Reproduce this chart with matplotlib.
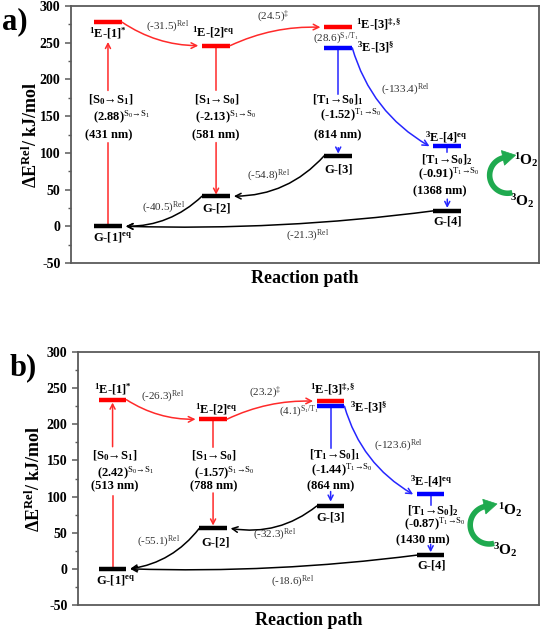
import matplotlib
matplotlib.use("Agg")
import numpy as np
import matplotlib.pyplot as plt
from matplotlib.ticker import MultipleLocator
from matplotlib.patches import Polygon

plt.rcParams.update({
    "font.family": ["Liberation Serif", "DejaVu Serif"],
    "mathtext.fontset": "custom",
    "mathtext.rm": "Liberation Serif",
    "mathtext.it": "Liberation Serif:italic",
    "mathtext.bf": "Liberation Serif:bold",
    "mathtext.default": "regular",
    "axes.unicode_minus": False,
})

# ---------------- data ----------------
# state order: G1, 1E1*, 1E2, G2, 1E3, 3E3, G3, 3E4, G4
state_stage = [0, 0, 1, 1, 2, 2, 2, 3, 3]
state_color = ["black", "red", "red", "black", "red", "blue", "black", "blue", "black"]
a_energy = [0, 278, 246, 41, 271, 243, 96, 109, 21]
b_energy = [0, 234, 207, 56, 232, 225, 87, 103, 19]

# relative energies: E1->E2, E2->E3(TS), S1/T1 gap, 3E3->3E4, G3->G2, G2->G1, G4->G1
a_rel = [-31.5, 24.5, 28.6, -133.4, -54.8, -40.5, -21.3]
b_rel = [-26.3, 23.2, 4.1, -123.6, -32.3, -55.1, -18.6]
# vertical energies (eV) and wavelengths (nm)
a_ev = [2.88, -2.13, -1.52, -0.91]
b_ev = [2.42, -1.57, -1.44, -0.87]
a_nm = [431, 581, 814, 1368]
b_nm = [513, 788, 864, 1430]

yticks = [-50, 0, 50, 100, 150, 200, 250, 300]

# ---------------- layout ----------------
a_stage_x = [0.79, 3.10, 5.71, 8.04]
b_stage_x = [0.75, 2.93, 5.48, 7.65]

RED_A = "#ff2a2a"
BLUE_A = "#2626ff"
GRAY = "#333333"
GREEN = "#1faa4f"

W, H = 543, 632
fig = plt.figure(figsize=(W / 100, H / 100), dpi=100)
ax_a = fig.add_axes([71 / W, 1 - 263 / H, 468 / W, 257 / H])
ax_b = fig.add_axes([78 / W, 1 - 605 / H, 461 / W, 253 / H])


def state_labels():
    return [r"G-[1]$^{eq}$", r"$^{1}$E-[1]$^{*}$", r"$^{1}$E-[2]$^{eq}$", "G-[2]",
            r"$^{1}$E-[3]$^{‡,§}$", r"$^{3}$E-[3]$^{§}$", "G-[3]",
            r"$^{3}$E-[4]$^{eq}$", "G-[4]"]


def draw_panel(ax, E, rel, ev, nm, sx, L):
    ax.set_xlim(0, 10)
    ax.set_ylim(-50, 300)
    hw = 0.3
    xs = [sx[s] for s in state_stage]
    for x, e, c in zip(xs, E, state_color):
        ax.plot([x - hw, x + hw], [e, e], color=c, lw=3.2, solid_capstyle="butt", zorder=3)

    labs = state_labels()
    bold = dict(fontsize=9, fontweight="bold", ha="center", va="center", color="black")
    norm = dict(fontsize=8, ha="center", va="center", color=GRAY)

    for i, lab in enumerate(labs):
        x, y, ha = L["lab"][i]
        ax.text(x, y, lab, **{**bold, "ha": ha})

    rel_strs = [r"(%.1f)$^{\mathrm{Rel}}$" % rel[0], r"(%.1f)$^{\mathrm{‡}}$" % rel[1],
                r"(%.1f)$^{\mathrm{S_{1}/T_{1}}}$" % rel[2], r"(%.1f)$^{\mathrm{Rel}}$" % rel[3],
                r"(%.1f)$^{\mathrm{Rel}}$" % rel[4], r"(%.1f)$^{\mathrm{Rel}}$" % rel[5],
                r"(%.1f)$^{\mathrm{Rel}}$" % rel[6]]
    for (x, y), s in zip(L["rel"], rel_strs):
        ax.text(x, y, s, **norm)

    tr = [r"[S$_{0}$→S$_{1}$]", r"[S$_{1}$→S$_{0}$]", r"[T$_{1}$→S$_{0}$]$_{1}$", r"[T$_{1}$→S$_{0}$]$_{2}$"]
    sup = [r"$^{\mathrm{S_{0}→S_{1}}}$", r"$^{\mathrm{S_{1}→S_{0}}}$", r"$^{\mathrm{T_{1}→S_{0}}}$", r"$^{\mathrm{T_{1}→S_{0}}}$"]
    for k in range(4):
        (x1, y1), (x2, y2), (x3, y3) = L["vt"][k]
        ax.text(x1, y1, tr[k], **bold)
        ax.text(x2, y2, "(%.2f)" % ev[k] + sup[k], **bold)
        ax.text(x3, y3, "(%d nm)" % nm[k], **bold)

    vcol = [RED_A, RED_A, BLUE_A, BLUE_A]
    for k in range(4):
        x = sx[k]
        (s0, s1), (a0, a1) = L["varr"][k]
        ax.plot([x, x], [s0, s1], color=vcol[k], lw=1.1, zorder=2)
        ax.annotate("", xy=(x, a1), xytext=(x, a0),
                    arrowprops=dict(arrowstyle="->,head_length=0.35,head_width=0.18",
                                    color=vcol[k], lw=1.1, shrinkA=0, shrinkB=0))

    def curve(i, j, side_i, side_j, rad, col, gap=0.08):
        x0 = xs[i] + side_i * hw
        x1 = xs[j] + side_j * (hw + gap)
        ax.annotate("", xy=(x1, E[j]), xytext=(x0, E[i]),
                    arrowprops=dict(arrowstyle="->,head_length=0.4,head_width=0.2",
                                    color=col, lw=1.1, shrinkA=0, shrinkB=0,
                                    connectionstyle="arc3,rad=%.3f" % rad))

    curve(1, 2, +1, -1, 0.15, RED_A)
    curve(2, 4, +1, -1, -0.12, RED_A)
    curve(5, 7, +1, -1, 0.2, BLUE_A)
    curve(6, 3, -1, +1, -0.22, "black")
    curve(3, 0, -1, +1, -0.2, "black")
    curve(8, 0, -1, +1, -0.04, "black")

    # oxygen cycle: clockwise thick arc + filled head (built in pixel units)
    bb = ax.get_position()
    px_x = bb.width * W / 10.0
    px_y = bb.height * H / 350.0
    (ccx, ccy), r_px = L["o2c"]
    th0, th1 = 285.0, 102.0
    th = np.deg2rad(np.linspace(th0, th1, 80))
    ax.plot(ccx + r_px * np.cos(th) / px_x, ccy + r_px * np.sin(th) / px_y,
            color=GREEN, lw=4.0, solid_capstyle="butt", zorder=4)
    te = np.deg2rad(th1)
    bx, by = r_px * np.cos(te), r_px * np.sin(te)
    tx, ty = np.sin(te), -np.cos(te)
    nx, ny = -ty, tx
    hl, hwid = 12.0, 7.5
    pts_px = [(bx - 1.0 * tx + hwid * nx, by - 1.0 * ty + hwid * ny),
              (bx + hl * tx, by + hl * ty),
              (bx - 1.0 * tx - hwid * nx, by - 1.0 * ty - hwid * ny)]
    pts = [(ccx + px / px_x, ccy + py / px_y) for px, py in pts_px]
    ax.add_patch(Polygon(pts, closed=True, facecolor=GREEN, edgecolor=GREEN, lw=0.5, zorder=4))
    ax.text(*L["o2s"], r"$^{1}$O$_{2}$", fontsize=11, fontweight="bold", ha="center", va="center")
    ax.text(*L["o2t"], r"$^{3}$O$_{2}$", fontsize=11, fontweight="bold", ha="center", va="center")

    ax.set_yticks(yticks)
    ax.yaxis.set_minor_locator(MultipleLocator(25))
    ax.set_xticks([])
    for sp in ax.spines.values():
        sp.set_color("#5a5a5a")
        sp.set_linewidth(1.3)
    ax.tick_params(axis="y", which="major", direction="out", length=4, width=1.1, color="#5a5a5a",
                   labelsize=10)
    ax.tick_params(axis="y", which="minor", direction="out", length=2.5, width=1.0, color="#5a5a5a")
    for t in ax.get_yticklabels():
        t.set_fontweight("bold")
    ax.set_ylabel(r"ΔE$^{Rel}$/ kJ/mol", fontsize=13, fontweight="bold")
    ax.set_xlabel("Reaction path", fontsize=13, fontweight="bold")
    ax.yaxis.set_label_coords(L["ylab_x"], 0.5)
    ax.xaxis.set_label_coords(0.5, -0.028)


L_a = {
    "lab": [(0.89, -14, "center"), (0.79, 263.5, "center"), (3.05, 265, "center"), (3.11, 24, "center"),
            (6.08, 274.5, "left"), (6.12, 244.5, "left"), (5.71, 78, "center"),
            (8.02, 122, "center"), (8.04, 6, "center")],
    "rel": [(2.07, 272), (4.33, 285), (5.65, 255), (7.14, 186), (4.22, 69), (1.98, 25), (5.06, -13)],
    "vt": [[(0.85, 172), (1.07, 148), (0.81, 124.6)],
           [(3.12, 172), (3.31, 148), (3.09, 124.6)],
           [(5.71, 172), (5.97, 150.5), (5.70, 124.6)],
           [(8.04, 90.6), (8.08, 70), (7.87, 47)]],
    "varr": [[(0, 114), (185, 251)], [(246, 185), (114, 43)],
             [(243, 180), (107, 99)], [(109, 101), (37, 25)]],
    "o2c": ((9.33, 69.5), 18),
    "o2s": (9.72, 89.6),
    "o2t": (9.65, 33.8),
    "ylab_x": -0.064,
}

L_b = {
    "lab": [(0.82, -15, "center"), (0.76, 248.8, "center"), (3.01, 221, "center"), (2.99, 37, "center"),
            (5.53, 249, "center"), (5.90, 224, "left"), (5.49, 71.6, "center"),
            (7.67, 120.6, "center"), (7.68, 5, "center")],
    "rel": [(1.84, 238), (4.06, 243), (4.79, 217), (6.96, 170), (4.27, 47), (1.76, 37.5), (4.65, -17.7)],
    "vt": [[(0.80, 156.6), (1.04, 132.6), (0.80, 113.7)],
           [(2.95, 156.6), (3.17, 132.6), (2.95, 113.7)],
           [(5.57, 157.5), (5.72, 136), (5.47, 114.6)],
           [(7.69, 80.5), (7.74, 60.7), (7.48, 39)]],
    "varr": [[(0, 101), (169, 230)], [(207, 169), (105, 60)],
             [(225, 167), (107, 93)], [(103, 88), (34, 23)]],
    "o2c": ((8.92, 60.7), 19),
    "o2s": (9.37, 81.5),
    "o2t": (9.28, 26),
    "ylab_x": -0.074,
}

draw_panel(ax_a, a_energy, a_rel, a_ev, a_nm, a_stage_x, L_a)
draw_panel(ax_b, b_energy, b_rel, b_ev, b_nm, b_stage_x, L_b)

fig.text(15 / W, 1 - 22 / H, "a)", fontsize=22, fontweight="bold", ha="center", va="center")
fig.text(23 / W, 1 - 368 / H, "b)", fontsize=22, fontweight="bold", ha="center", va="center")

fig.savefig("out.png", dpi=100)
